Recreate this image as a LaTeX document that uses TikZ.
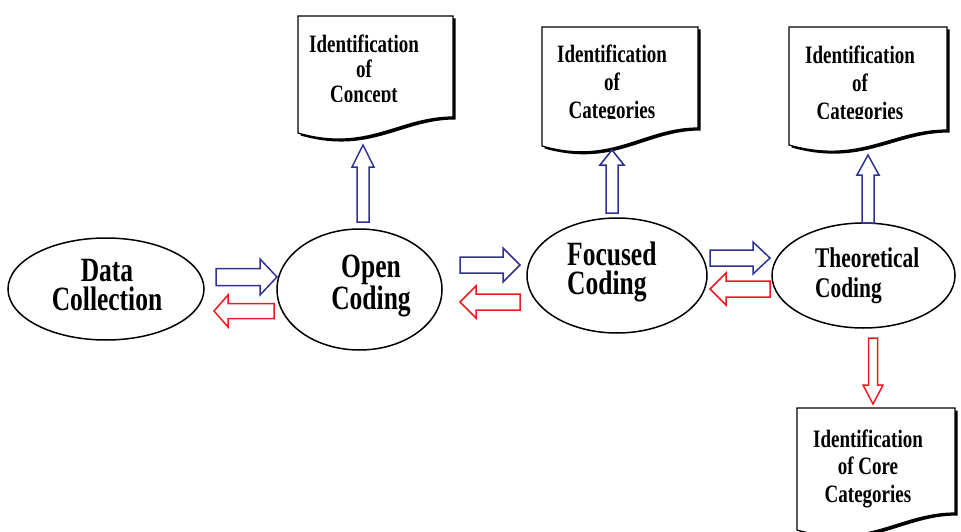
\documentclass[tikz,border=0pt]{standalone}
\usepackage{fontspec}
\setmainfont{Liberation Serif}
\newfontfamily\ovalfont{Liberation Serif}[FakeStretch=0.75]
\newfontfamily\docfont{Liberation Serif}[FakeStretch=0.76]
\usepackage{tikz}
\usetikzlibrary{shapes.geometric}

\definecolor{arrowblue}{RGB}{46,49,146}
\definecolor{arrowred}{RGB}{237,28,36}

\begin{document}
\begin{tikzpicture}[x=1pt, y=-1pt,
    stage/.style={draw, ellipse, line width=1.5pt, inner sep=0pt},
    ovaltext/.style={inner sep=0pt, font=\ovalfont\bfseries\fontsize{34}{29}\selectfont},
    doctext/.style={inner sep=0pt, align=center, font=\docfont\bfseries\fontsize{25}{28}\selectfont},
    bluearrow/.style={arrowblue, line width=1.5pt},
    redarrow/.style={arrowred, line width=1.5pt},
    pics/blockarrow/.style n args={4}{code={
        \draw (0,-#3) -- ({#1-#2},-#3) -- ({#1-#2},-#4) -- (#1,0) -- ({#1-#2},#4) -- ({#1-#2},#3) -- (0,#3) -- cycle;
    }},
    pics/docshape/.style n args={3}{code={
        \fill[shift={(2.5,2.5)}] (0,0) -- (#1,0) -- (#1,#2) .. controls ({0.65*#1},#2) and ({0.45*#1},{#3+20}) .. (0,#3) -- cycle;
        \filldraw[fill=white, line width=1.2pt] (0,0) -- (#1,0) -- (#1,#2) .. controls ({0.65*#1},#2) and ({0.45*#1},{#3+20}) .. (0,#3) -- cycle;
    }}]
\useasboundingbox (0,0) rectangle (961,532);

% the four coding stages
\node[stage, minimum width=196pt, minimum height=102pt] (dc) at (106,289) {};
\node[ovaltext, align=center] (dc-t) at (107,285) {Data\\Collection};
\node[stage, minimum width=165pt, minimum height=121pt] (oc) at (359.5,289.5) {};
\node[ovaltext, align=center] (oc-t) at (371,286) {Open\\Coding};
\node[stage, minimum width=180pt, minimum height=115pt] (fc) at (617,275.5) {};
\node[ovaltext, align=left, anchor=west] (fc-t) at (567,272) {Focused\\Coding};
\node[stage, minimum width=183pt, minimum height=105pt] (tc) at (863.5,275.5) {};
\node[ovaltext, align=left, anchor=west, font=\ovalfont\bfseries\fontsize{28.5}{30}\selectfont] (tc-t) at (815,276) {Theoretical\\Coding};

% documents
\pic at (298,16) {docshape={155}{101}{117}};
\pic at (542,27) {docshape={156}{101}{119}};
\pic at (789,27) {docshape={158}{103}{118}};
\pic at (797,408) {docshape={158}{105}{122}};

\begin{scope}
    \clip (290,0) rectangle (460,102);
    \node[doctext, font=\docfont\bfseries\fontsize{25}{25}\selectfont] (oc-doc) at (364,71.5) {Identification\\of\\Concept};
\end{scope}
\begin{scope}
    \clip (530,0) rectangle (950,118.5);
    \node[doctext] (fc-doc) at (612,84.5) {Identification\\of\\Categories};
    \node[doctext] (tc-doc) at (860,85) {Identification\\of\\Categories};
\end{scope}
\node[doctext, font=\docfont\bfseries\fontsize{25}{27.5}\selectfont] (core-doc) at (868,468.6) {Identification\\of Core\\Categories};

% arrows between the stages
\pic[bluearrow] at (216,277) {blockarrow={61}{17}{8.5}{18}};
\pic[redarrow, rotate=180] at (274,311) {blockarrow={60}{14}{7.5}{16}};
\pic[bluearrow] at (460,265) {blockarrow={60}{17}{8}{17}};
\pic[redarrow, rotate=180] at (520,302) {blockarrow={60}{16}{8}{16}};
\pic[bluearrow] at (710,258) {blockarrow={60}{17}{8}{16}};
\pic[redarrow, rotate=180] at (770,289) {blockarrow={60}{16}{8}{16}};

% arrows to the documents
\pic[bluearrow, rotate=90] at (363,222) {blockarrow={77}{22}{6}{11}};
\pic[bluearrow, rotate=90] at (612,213) {blockarrow={63}{15}{6}{12}};
\pic[bluearrow, rotate=90] at (868,223) {blockarrow={68}{20}{6}{11}};
\pic[redarrow, rotate=-90] at (873,338) {blockarrow={66}{19}{4.5}{10}};
\end{tikzpicture}
\end{document}
